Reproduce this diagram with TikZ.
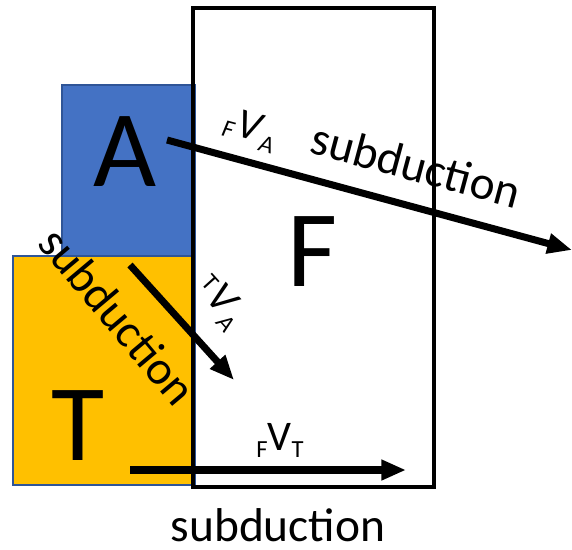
\documentclass[tikz,border=0pt]{standalone}
\usepackage{fontspec}
\setmainfont{Carlito}
\usetikzlibrary{arrows.meta}

\definecolor{plateA}{HTML}{4472C4}
\definecolor{plateT}{HTML}{FFC000}
\definecolor{rimT}{HTML}{2F5597}
\tikzset{
  plate/.style={draw=rimT,line width=0.6pt},
  velo/.style={-{Triangle[length=14pt,width=11pt]},line width=4pt},
  biglabel/.style={font=\fontsize{62}{62}\selectfont,inner sep=0pt},
  sublabel/.style={font=\fontsize{27}{27}\selectfont,inner sep=0pt},
  vlabel/.style={font=\fontsize{24}{24}\selectfont,inner sep=0pt}
}

\begin{document}
\begin{tikzpicture}[x=0.02cm,y=-0.02cm]
\useasboundingbox (0,0) rectangle (572,549);
% plates
\fill[plateT,plate] (13,256) rectangle (195,485);
\fill[plateA,plate] (62,85) rectangle (195,256);
\draw[line width=2.8pt] (193,8) rectangle (434,487);
\node[biglabel] (lA) at (125,152) {A};
\node[biglabel] (lF) at (313,252) {F};
\node[biglabel] (lT) at (78,426) {T};
% velocity arrows
\coordinate (a0) at (167,140);
\coordinate (a1) at (572,250);
\coordinate (t0) at (130,265);
\coordinate (t1) at (234,380);
\coordinate (b0) at (130,470);
\coordinate (b1) at (406,470);
\draw[velo] (a0)--(a1);
\draw[velo] (t0)--(t1);
\draw[velo] (b0)--(b1);
% labels
\node[vlabel,rotate=-15] (vFA) at (250,130) {\raisebox{-2pt}{\fontsize{14}{14}\selectfont\textit{F}}\kern1pt\textit{V}\raisebox{-5pt}{\fontsize{14}{14}\selectfont\textit{A}}};
\node[vlabel,rotate=-48] (vTA) at (220,302) {\raisebox{4pt}{\fontsize{14}{14}\selectfont T}\kern1pt\textit{V}\raisebox{-5pt}{\fontsize{14}{14}\selectfont\textit{A}}};
\node[vlabel] (vFT) at (280,440) {\raisebox{-4pt}{\fontsize{14}{14}\selectfont F}V\raisebox{-4pt}{\fontsize{14}{14}\selectfont T}};
\node[sublabel,rotate=-15] (sA) at (416,165) {subduction};
\node[sublabel,rotate=-50] (sT) at (118,316) {subduction};
\node[sublabel] (sF) at (278,525) {subduction};
\end{tikzpicture}
\end{document}
